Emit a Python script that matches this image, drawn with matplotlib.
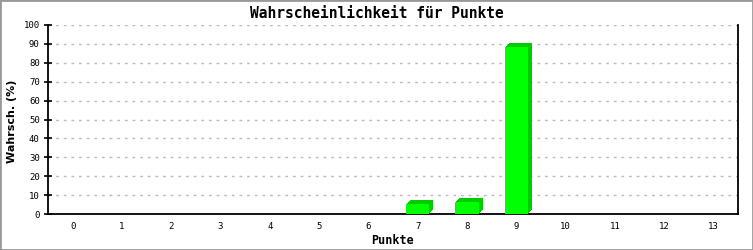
import matplotlib
matplotlib.use("Agg")
import matplotlib.pyplot as plt
import matplotlib.transforms as mtransforms
from matplotlib.patches import Rectangle

# values
punkte = list(range(14))
wahrsch = [0, 0, 0, 0, 0, 0, 0, 5.3, 6.4, 88.4, 0, 0, 0, 0]
y_ticks = list(range(0, 101, 10))

FRONT = "#00ff00"
SIDE = "#00cc00"
MONO = "DejaVu Sans Mono"
W, H = 753, 250

fig = plt.figure(figsize=(W / 100, H / 100), dpi=100)
ax = fig.add_axes([48 / W, 36 / H, 690 / W, 189 / H])

# border around the whole picture
fig.patches.append(Rectangle((0, 0), 1, 1, transform=fig.transFigure,
                             fill=False, edgecolor="#999999", linewidth=2))

# pseudo 3D: darker copies shifted right/up, front face on top
for k in range(1, 5):
    shift = mtransforms.ScaledTranslation(k / 100, k / 100, fig.dpi_scale_trans)
    for x, v in zip(punkte, wahrsch):
        if v > 0:
            ax.bar(x, v, width=0.47, color=SIDE, linewidth=0,
                   transform=ax.transData + shift, zorder=2)
ax.bar(punkte, wahrsch, width=0.47, color=FRONT, linewidth=0, zorder=3)

ax.set_xlim(-0.5, 13.5)
ax.set_ylim(0, 100)
ax.set_xticks(punkte)
ax.set_xticklabels([str(p) for p in punkte], family=MONO, fontsize=6.5)
ax.set_yticks(y_ticks)
ax.set_yticklabels([str(t) for t in y_ticks], family=MONO, fontsize=6.5)
ax.tick_params(axis="x", length=0, pad=6)
ax.tick_params(axis="y", direction="inout", length=6, width=1.2, pad=3)

ax.grid(axis="y", color="#bbbbbb", linestyle=(0, (2, 3.5)), linewidth=1)
ax.set_axisbelow(True)
ax.spines["top"].set_visible(False)
for s in ("left", "bottom", "right"):
    ax.spines[s].set_linewidth(1.3)

fig.text(0.5, 1 - 13 / H, "Wahrscheinlichkeit für Punkte", family=MONO,
         fontsize=10.5, fontweight="bold", ha="center", va="center")
fig.text((48 + 345) / W, 1 - 240 / H, "Punkte", family=MONO, fontsize=8.5,
         fontweight="bold", ha="center", va="center")
fig.text(12 / W, 1 - 121 / H, "Wahrsch. (%)", fontsize=8, fontweight="bold",
         rotation=90, ha="center", va="center")

fig.savefig("out.png", dpi=100)
